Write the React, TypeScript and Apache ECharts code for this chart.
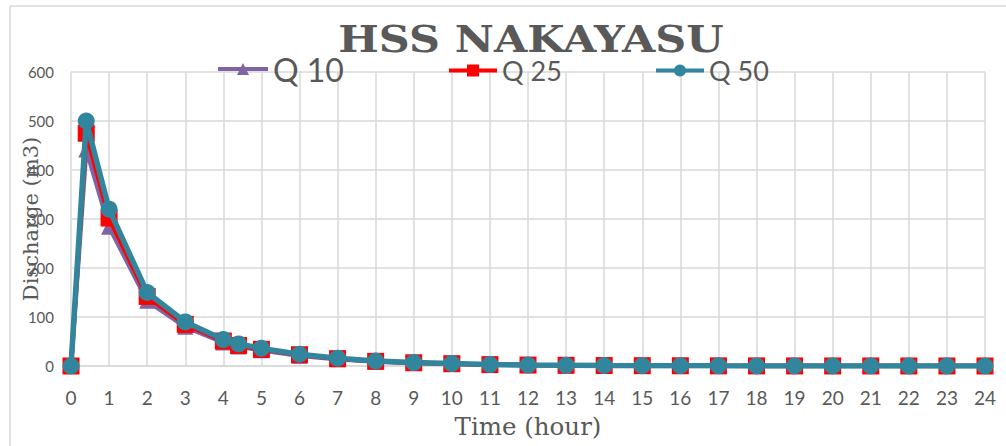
import React, { useEffect, useRef } from "react";
import * as echarts from "echarts";

const hours = [0, 0.4, 1, 2, 3, 4, 4.4, 5, 6, 7, 8, 9, 10, 11, 12, 13, 14, 15, 16, 17, 18, 19, 20, 21, 22, 23, 24];
const q10 = [0, 442, 284, 133, 80, 48, 40, 32, 21, 14, 9, 6.2, 4.4, 2.7, 1.8, 1.3, 0.9, 0.6, 0.45, 0.27, 0.18, 0.13, 0.09, 0.06, 0.04, 0.03, 0.02];
const q25 = [0, 475, 302, 142, 85, 51, 42, 34, 23, 15, 9.5, 6.6, 4.7, 2.8, 1.9, 1.4, 0.95, 0.66, 0.47, 0.28, 0.19, 0.14, 0.09, 0.07, 0.05, 0.03, 0.02];
const q50 = [0, 500, 320, 150, 90, 54, 45, 36, 24, 16, 10, 7, 5, 3, 2, 1.5, 1, 0.7, 0.5, 0.3, 0.2, 0.15, 0.1, 0.07, 0.05, 0.03, 0.02];
const seriesNames = ["Q 10", "Q 25", "Q 50"];
const titleText = "HSS NAKAYASU";
const xTitle = "Time (hour)";
const yTitle = "Discharge (m3)";

const pair = (vals: number[]) => hours.map((h, i) => [h, vals[i]]);

export default function App() {
  const ref = useRef<HTMLDivElement>(null);
  useEffect(() => {
    if (!ref.current) return;
    const chart = echarts.init(ref.current, undefined, { renderer: "svg" });
    const grey = "#595959";
    const gridC = "#d9d9d9";
    const legendBase = {
      padding: 0,
      itemWidth: 50,
      itemHeight: 15,
      lineStyle: { width: 4 },
    };
    chart.setOption({
      animation: false,
      backgroundColor: "#ffffff",
      legend: [
        {
          ...legendBase,
          data: [seriesNames[0]],
          left: 216,
          top: 53,
          textStyle: { fontFamily: "Lato", fontSize: 32, color: grey },
        },
        {
          ...legendBase,
          data: [seriesNames[1]],
          left: 447,
          top: 57,
          itemWidth: 48,
          textStyle: { fontFamily: "Lato", fontSize: 27, color: grey },
        },
        {
          ...legendBase,
          data: [seriesNames[2]],
          left: 654,
          top: 57,
          itemWidth: 48,
          textStyle: { fontFamily: "Lato", fontSize: 27, color: grey },
        },
      ],
      grid: { left: 71, right: 21, top: 72, bottom: 80, containLabel: false, outerBoundsMode: "none" },
      xAxis: {
        type: "value",
        min: 0,
        max: 24,
        interval: 1,
        name: xTitle,
        nameLocation: "middle",
        nameGap: 48,
        nameMoveOverlap: false,
        nameTextStyle: { fontFamily: "DejaVu Serif", fontSize: 24.5, color: grey },
        axisLine: { show: true, lineStyle: { color: gridC, width: 1.5 } },
        axisTick: { show: false },
        axisLabel: { fontFamily: "Lato", fontSize: 19, color: grey, margin: 22 },
        splitLine: { show: true, lineStyle: { color: gridC, width: 1.5 } },
      },
      yAxis: {
        type: "value",
        min: 0,
        max: 600,
        interval: 100,
        name: yTitle,
        nameLocation: "middle",
        nameGap: 30,
        nameRotate: 90,
        nameMoveOverlap: false,
        nameTextStyle: { fontFamily: "DejaVu Serif", fontSize: 21, color: grey },
        axisLine: { show: false },
        axisTick: { show: false },
        axisLabel: { fontFamily: "Lato", fontSize: 15, color: grey, margin: 17 },
        splitLine: { show: true, lineStyle: { color: gridC, width: 1.5 } },
      },
      graphic: [
        {
          type: "rect",
          shape: { x: 10, y: 6, width: 1010, height: 460 },
          style: { fill: "none", stroke: gridC, lineWidth: 1.5 },
          silent: true,
          z: -1,
        },
        {
          type: "text",
          x: 531,
          y: 39,
          scaleX: 1.13,
          style: {
            text: titleText,
            fontFamily: "DejaVu Serif",
            fontWeight: "bold",
            fontSize: 38,
            fill: grey,
            align: "center",
            verticalAlign: "middle",
          },
          z: 10,
        },
      ],
      series: [
        {
          name: seriesNames[0],
          type: "line",
          data: pair(q10),
          symbol: "triangle",
          symbolSize: 16,
          itemStyle: { color: "#8064a2" },
          lineStyle: { color: "#8064a2", width: 4.5 },
          z: 2,
        },
        {
          name: seriesNames[1],
          type: "line",
          data: pair(q25),
          symbol: "rect",
          symbolSize: 17,
          itemStyle: { color: "#ff0000" },
          lineStyle: { color: "#ff0000", width: 4.5 },
          z: 3,
        },
        {
          name: seriesNames[2],
          type: "line",
          data: pair(q50),
          symbol: "circle",
          symbolSize: 17,
          itemStyle: { color: "#31859c" },
          lineStyle: { color: "#31859c", width: 5.5 },
          z: 4,
        },
      ],
    });
    return () => chart.dispose();
  }, []);
  return (
    <div
      ref={ref}
      style={{ position: "absolute", left: 0, top: 0, width: 1006, height: 446 }}
    />
  );
}
